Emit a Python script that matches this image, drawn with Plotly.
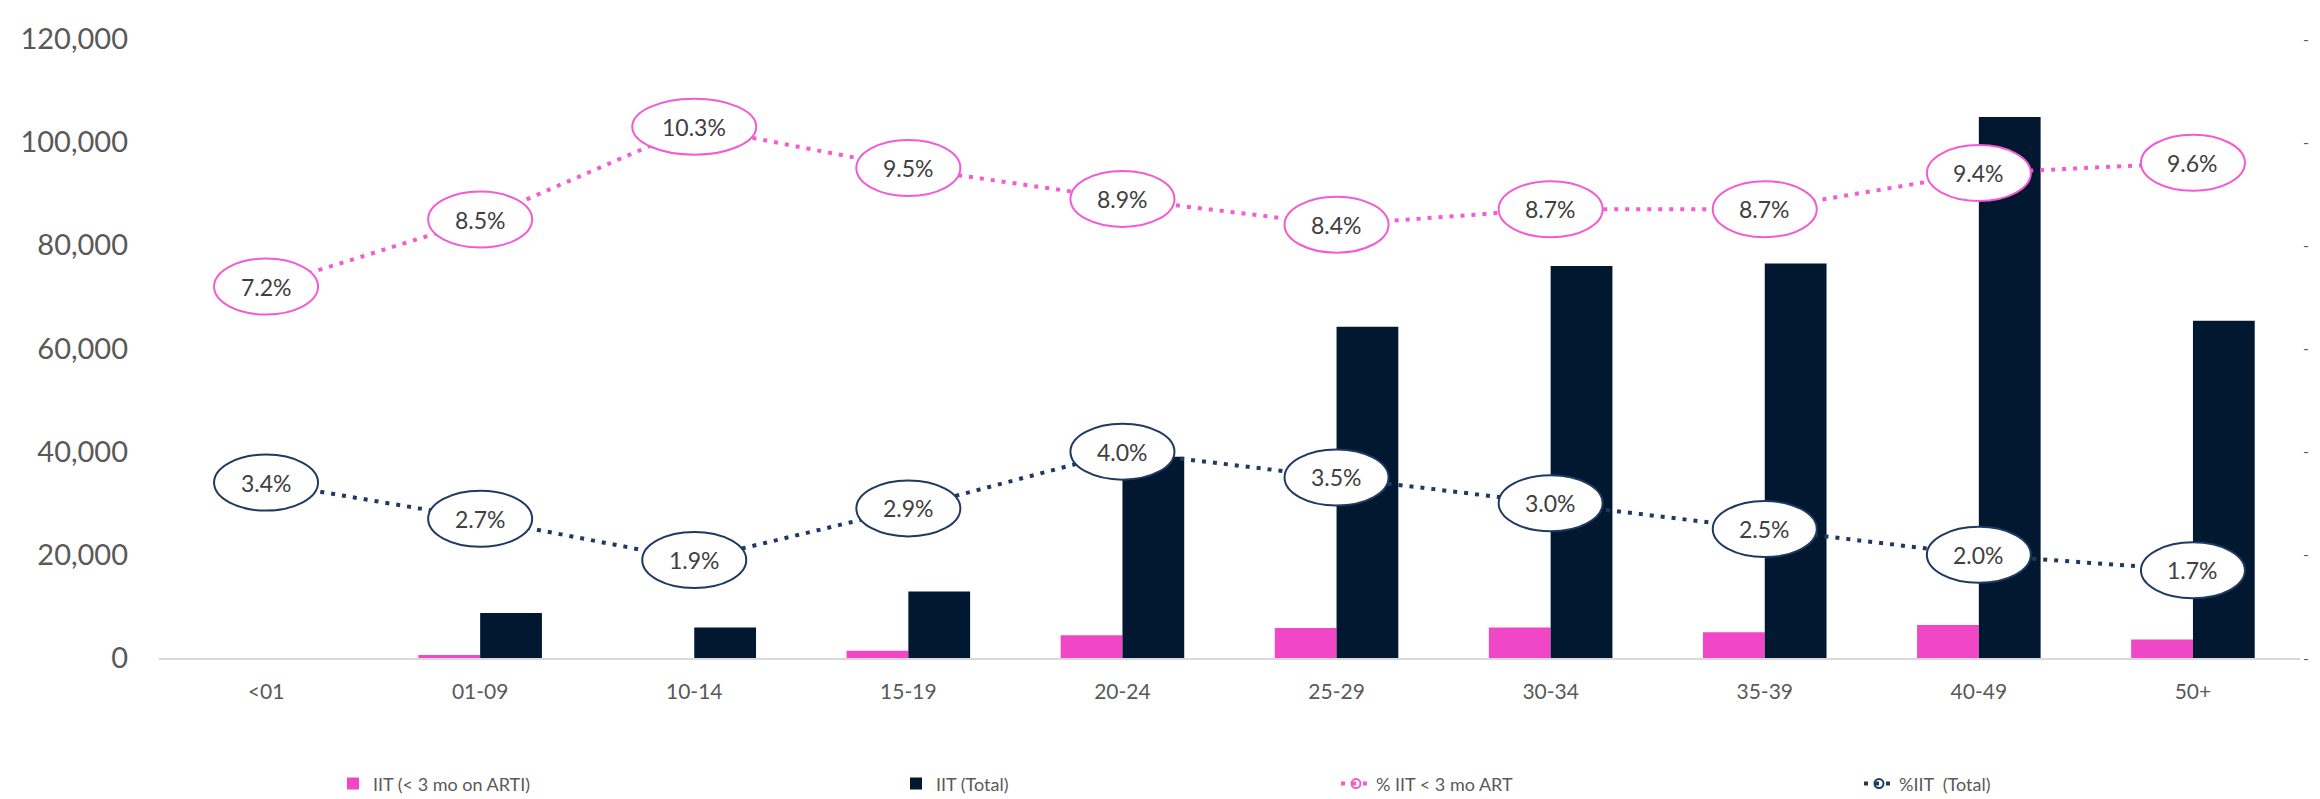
import plotly.graph_objects as go

categories = ["<01", "01-09", "10-14", "15-19", "20-24", "25-29", "30-34", "35-39", "40-49", "50+"]
iit_lt3 = [0, 600, 0, 1400, 4400, 5800, 5900, 5000, 6400, 3600]
iit_total = [0, 8700, 5900, 12900, 39000, 64200, 76000, 76500, 104900, 65400]
pct_lt3 = [0.072, 0.085, 0.103, 0.095, 0.089, 0.084, 0.087, 0.087, 0.094, 0.096]
pct_total = [0.034, 0.027, 0.019, 0.029, 0.040, 0.035, 0.030, 0.025, 0.020, 0.017]
y_ticks = [0, 20000, 40000, 60000, 80000, 100000, 120000]
y2_ticks = [0, 0.02, 0.04, 0.06, 0.08, 0.10, 0.12]
series_names = ["IIT (< 3 mo on ARTI)", "IIT (Total)", "% IIT < 3 mo ART", "%IIT  (Total)"]


def esc(s):
    return s.replace("<", "&lt;")


PINK_BAR = "#EF47C6"
NAVY_BAR = "#021830"
PINK_LINE = "#F25BD3"
NAVY_LINE = "#1F3A60"
GREY = "#595959"
FONT = "Lato, sans-serif"

fig = go.Figure()
fig.add_trace(go.Bar(x=categories, y=iit_lt3, name=esc(series_names[0]),
                     marker=dict(color=PINK_BAR, line=dict(width=0)), legend="legend"))
fig.add_trace(go.Bar(x=categories, y=iit_total, name=esc(series_names[1]),
                     marker=dict(color=NAVY_BAR, line=dict(width=0)), legend="legend2"))
fig.add_trace(go.Scatter(x=categories, y=pct_lt3, name=esc(series_names[2]), yaxis="y2",
                         mode="lines+markers", line=dict(color=PINK_LINE, width=4, dash="4px,7px"),
                         marker=dict(symbol="circle-open", size=9, color=PINK_LINE, line=dict(width=2)),
                         legend="legend3"))
fig.add_trace(go.Scatter(x=categories, y=pct_total, name=esc(series_names[3]), yaxis="y2",
                         mode="lines+markers", line=dict(color=NAVY_LINE, width=4, dash="4px,7px"),
                         marker=dict(symbol="circle-open", size=9, color=NAVY_LINE, line=dict(width=2)),
                         legend="legend4"))

shapes = []
annotations = []
for series, color in ((pct_lt3, PINK_LINE), (pct_total, NAVY_LINE)):
    for i, v in enumerate(series):
        label = f"{v*100:.1f}%"
        half_w = 62 if len(label) > 4 else 52
        shapes.append(dict(type="circle", xref="x", yref="y2", layer="above",
                           xsizemode="pixel", xanchor=i, x0=-half_w, x1=half_w,
                           ysizemode="pixel", yanchor=v, y0=-28, y1=28,
                           fillcolor="white", line=dict(color=color, width=2)))
        annotations.append(dict(x=i, y=v, xref="x", yref="y2", text=label, showarrow=False,
                                font=dict(family=FONT, size=23, color="#404040")))

fig.update_layout(
    width=2320, height=799,
    margin=dict(l=142, r=28, t=17, b=149),
    paper_bgcolor="white", plot_bgcolor="white",
    showlegend=True,
    barmode="group", bargap=0.423, bargroupgap=0,
    font=dict(family=FONT, color=GREY),
    xaxis=dict(type="category", tickvals=categories, ticktext=[esc(c) for c in categories],
               range=[-0.5, len(categories) - 0.5],
               showgrid=False, showline=True, linecolor="#D9D9D9", linewidth=2,
               ticks="", tickfont=dict(size=21, color=GREY), ticklabelstandoff=14),
    yaxis=dict(range=[0, 120000], tickvals=y_ticks, tickformat=",", showgrid=False,
               zeroline=False, showline=False, ticks="",
               tickfont=dict(size=29, color=GREY), ticklabelstandoff=30),
    yaxis2=dict(range=[0, 0.12], tickvals=y2_ticks, ticktext=["-"] * len(y2_ticks),
                overlaying="y", side="right", showgrid=False, zeroline=False, showline=False,
                ticks="", tickfont=dict(size=16, color=GREY), ticklabelstandoff=2),
    shapes=shapes,
    annotations=annotations,
)

legend_common = dict(orientation="h", xref="container", yref="container", y=0.029, yanchor="middle",
                     font=dict(family=FONT, size=18, color=GREY), bgcolor="rgba(0,0,0,0)",
                     itemwidth=30, visible=True)
fig.update_layout(
    legend=dict(x=325 / 2320, **legend_common),
    legend2=dict(x=888 / 2320, **legend_common),
    legend3=dict(x=1328 / 2320, **legend_common),
    legend4=dict(x=1851 / 2320, **legend_common),
)

fig.write_html("out.html")
